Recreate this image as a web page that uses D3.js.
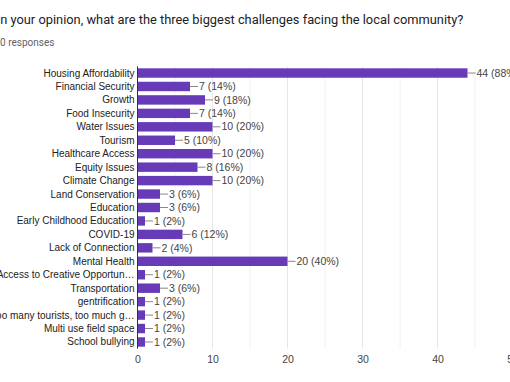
<!DOCTYPE html>
<html><head><meta charset="utf-8">
<script src="https://cdn.jsdelivr.net/npm/d3@7"></script>
<style>
html,body{margin:0;padding:0;background:#fff;overflow:hidden}
svg{display:block}
</style></head>
<body>
<svg id="chart" width="510" height="382"></svg>
<script>
const title = "In your opinion, what are the three biggest challenges facing the local community?";
const subtitle = "50 responses";
const categories = ["Housing Affordability","Financial Security","Growth","Food Insecurity","Water Issues","Tourism","Healthcare Access","Equity Issues","Climate Change","Land Conservation","Education","Early Childhood Education","COVID-19","Lack of Connection","Mental Health","Access to Creative Opportun…","Transportation","gentrification","Too many tourists, too much g…","Multi use field space","School bullying"];
const counts = [44,7,9,7,10,5,10,8,10,3,3,1,6,2,20,1,3,1,1,1,1];
const percents = [88,14,18,14,20,10,20,16,20,6,6,2,12,4,40,2,6,2,2,2,2];
const tickValues = [0,10,20,30,40,50];
const gridValues = [5,10,15,20,25,30,35,40,45,50];

const svg = d3.select("#chart");
const x = d3.scaleLinear().domain([0,50]).range([137.5,512.5]);
const y = d3.scaleBand().domain(categories).range([66.3,348.7]).paddingInner(0.3).paddingOuter(0.15);

svg.append("text").attr("x",-3.3).attr("y",24).attr("font-family","Roboto, 'Open Sans', sans-serif")
  .attr("font-size",12.85).attr("fill","#202124").text(title);
svg.append("text").attr("x",-5.5).attr("y",46).attr("font-family","Roboto, sans-serif")
  .attr("font-size",10).attr("fill","#5f6368").text(subtitle);

// gridlines
svg.append("g").selectAll("line").data(gridValues).join("line")
  .attr("x1",d=>x(d)).attr("x2",d=>x(d)).attr("y1",66.3).attr("y2",348.7)
  .attr("stroke",d=>d%10===0?"#e6e6e6":"#f2f2f2").attr("stroke-width",1);

const data = categories.map((c,i)=>({c,v:counts[i],p:percents[i]}));

// bars
svg.append("g").selectAll("rect").data(data).join("rect")
  .attr("x",x(0)).attr("y",d=>y(d.c)).attr("width",d=>x(d.v)-x(0)).attr("height",y.bandwidth())
  .attr("fill","#673ab7");

// connector lines + value labels
svg.append("g").selectAll("line").data(data).join("line")
  .attr("x1",d=>x(d.v)).attr("x2",d=>x(d.v)+8)
  .attr("y1",d=>y(d.c)+y.bandwidth()/2).attr("y2",d=>y(d.c)+y.bandwidth()/2)
  .attr("stroke","#888").attr("stroke-width",1);
svg.append("g").selectAll("text").data(data).join("text")
  .attr("x",d=>x(d.v)+9).attr("y",d=>y(d.c)+y.bandwidth()/2).attr("dy","0.35em")
  .attr("font-family","'Liberation Sans', Arial, sans-serif").attr("font-size",10.5).attr("fill","#444")
  .text(d=>`${d.v} (${d.p}%)`);

// category labels
svg.append("g").selectAll("text").data(data).join("text")
  .attr("x",134.5).attr("y",d=>y(d.c)+y.bandwidth()/2).attr("dy","0.35em").attr("text-anchor","end")
  .attr("font-family","'Liberation Sans', Arial, sans-serif").attr("font-size",10).attr("fill","#222")
  .text(d=>d.c);

// baseline
svg.append("line").attr("x1",x(0)).attr("x2",x(0)).attr("y1",66.3).attr("y2",348.7)
  .attr("stroke","#333").attr("stroke-width",1);

// x axis
const ax = svg.append("g").attr("transform","translate(0,350)")
  .call(d3.axisBottom(x).tickValues(tickValues).tickSize(0).tickPadding(6));
ax.select(".domain").remove();
ax.selectAll("text").attr("font-family","'Liberation Sans', Arial, sans-serif").attr("font-size",10.5).attr("fill","#444");
</script>
</body></html>
